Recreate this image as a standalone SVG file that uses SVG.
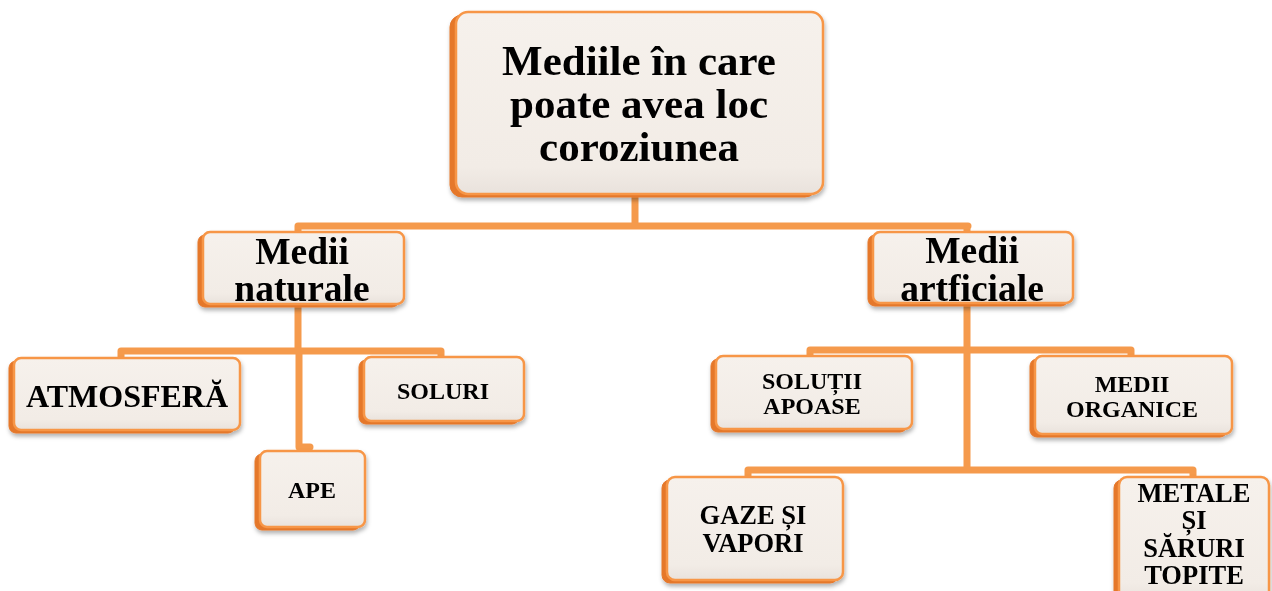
<svg xmlns="http://www.w3.org/2000/svg" width="1272" height="591" viewBox="0 0 1272 591">
<defs>
<linearGradient id="face" x1="0" y1="0" x2="0" y2="1">
<stop offset="0" stop-color="#F6F1EC"/>
<stop offset="0.85" stop-color="#F2ECE6"/>
<stop offset="1" stop-color="#E9E2DC"/>
</linearGradient>
<filter id="sh" x="-10%" y="-10%" width="125%" height="130%">
<feDropShadow dx="1" dy="3" stdDeviation="2" flood-color="#000" flood-opacity="0.3"/>
</filter>
</defs>
<style>
.back{fill:#E5782C;stroke:#E5782C;stroke-width:1}
.face{fill:url(#face);stroke:#F79646;stroke-width:2.5}
.t{font-family:"Liberation Serif","Times New Roman",serif;font-weight:bold;fill:#000;text-anchor:middle}
.con{fill:none;stroke:#F59A4C;stroke-width:7;stroke-linejoin:round;stroke-linecap:round}
</style>
<rect width="1272" height="591" fill="#fff"/>
<g id="connectors" class="con">
<path d="M635,194 V226 M298,226 H968 M298,226 V236 M967,226 V236"/>
<path d="M298,304 V351 M121,351 H441 M121,351 V360 M441,351 V360 M299,351 V447 H310"/>
<path d="M967,303 V470 M810,350 H1131 M810,350 V360 M1131,350 V360 M748,470 H1193 M748,470 V480 M1193,470 V480"/>
</g>
<g id="root" filter="url(#sh)">
<rect class="back" x="450" y="15" width="367" height="182" rx="12"/>
<rect class="face" x="456" y="12" width="367" height="182" rx="12"/>
<text class="t" font-size="43" x="639" y="75">Mediile în care</text>
<text class="t" font-size="43" x="639" y="118">poate avea loc</text>
<text class="t" font-size="43" x="639" y="161">coroziunea</text>
</g>
<g id="medii-naturale" filter="url(#sh)">
<rect class="back" x="198" y="235" width="201" height="72" rx="7"/>
<rect class="face" x="203" y="232" width="201" height="72" rx="7"/>
<text class="t" font-size="37.5" x="302" y="264">Medii</text>
<text class="t" font-size="37.5" x="302" y="301">naturale</text>
</g>
<g id="medii-artificiale" filter="url(#sh)">
<rect class="back" x="868" y="235" width="200" height="71" rx="7"/>
<rect class="face" x="873" y="232" width="200" height="71" rx="7"/>
<text class="t" font-size="37.5" x="972" y="263">Medii</text>
<text class="t" font-size="37.5" x="972" y="301">artficiale</text>
</g>
<g id="atmosfera" filter="url(#sh)">
<rect class="back" x="9" y="361" width="226" height="72" rx="7"/>
<rect class="face" x="14" y="358" width="226" height="72" rx="7"/>
<text class="t" font-size="32" x="127" y="407">ATMOSFERĂ</text>
</g>
<g id="soluri" filter="url(#sh)">
<rect class="back" x="359" y="360" width="160" height="64" rx="7"/>
<rect class="face" x="364" y="357" width="160" height="64" rx="7"/>
<text class="t" font-size="24" x="443" y="399">SOLURI</text>
</g>
<g id="ape" filter="url(#sh)">
<rect class="back" x="255" y="454" width="105" height="76" rx="7"/>
<rect class="face" x="260" y="451" width="105" height="76" rx="7"/>
<text class="t" font-size="24" x="312" y="498">APE</text>
</g>
<g id="solutii-apoase" filter="url(#sh)">
<rect class="back" x="711" y="359" width="196" height="73" rx="7"/>
<rect class="face" x="716" y="356" width="196" height="73" rx="7"/>
<text class="t" font-size="24" x="812" y="389">SOLUȚII</text>
<text class="t" font-size="24" x="812" y="414">APOASE</text>
</g>
<g id="medii-organice" filter="url(#sh)">
<rect class="back" x="1030" y="359" width="197" height="78" rx="7"/>
<rect class="face" x="1035" y="356" width="197" height="78" rx="7"/>
<text class="t" font-size="24" x="1132" y="392">MEDII</text>
<text class="t" font-size="24" x="1132" y="417">ORGANICE</text>
</g>
<g id="gaze-vapori" filter="url(#sh)">
<rect class="back" x="662" y="480" width="176" height="103" rx="8"/>
<rect class="face" x="667" y="477" width="176" height="103" rx="8"/>
<text class="t" font-size="26.5" x="753" y="524">GAZE ȘI</text>
<text class="t" font-size="26.5" x="753" y="552">VAPORI</text>
</g>
<g id="metale-saruri" filter="url(#sh)">
<rect class="back" x="1114" y="480" width="150" height="125" rx="8"/>
<rect class="face" x="1119" y="477" width="150" height="125" rx="8"/>
<text class="t" font-size="26.5" x="1194" y="502">METALE</text>
<text class="t" font-size="26.5" x="1194" y="529">ȘI</text>
<text class="t" font-size="26.5" x="1194" y="557">SĂRURI</text>
<text class="t" font-size="26.5" x="1194" y="584">TOPITE</text>
</g>
</svg>
